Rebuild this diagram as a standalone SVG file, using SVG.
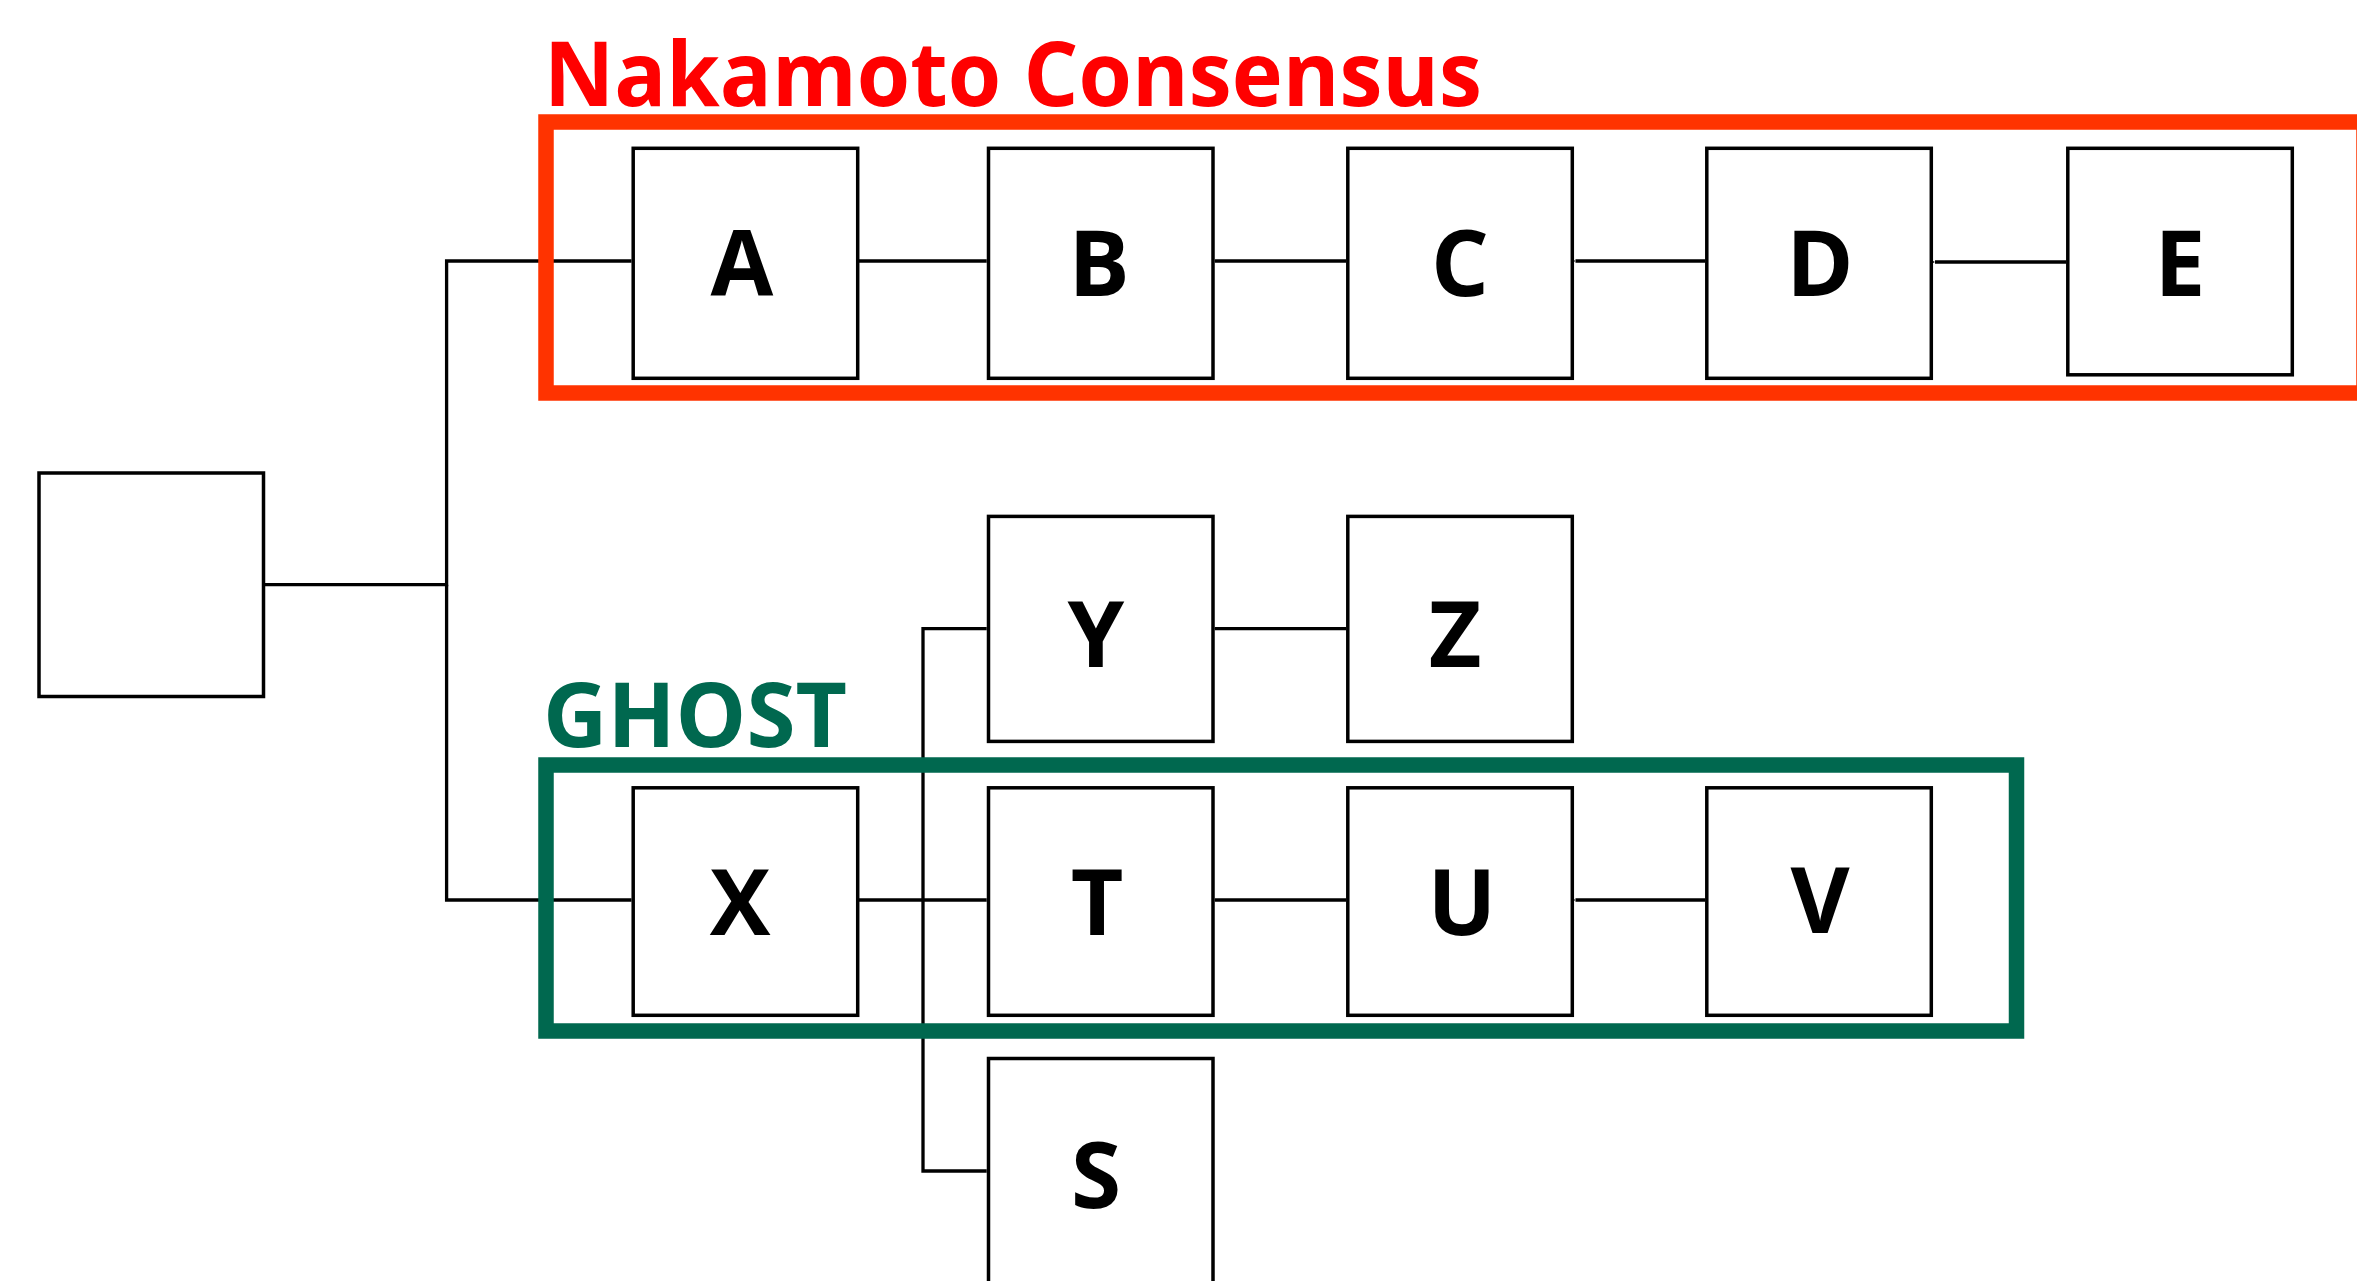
<svg xmlns="http://www.w3.org/2000/svg" width="2357" height="1281" viewBox="0 0 2357 1281">
<style>
.blk{fill:#fff;stroke:#000;stroke-width:3.5}
.lbl{font-family:"Open Sans","Noto Sans","Liberation Sans",sans-serif;font-weight:700;font-size:91px;fill:#000;text-anchor:middle}
.con{fill:none;stroke:#000;stroke-width:3.3}
.frame{fill:none;stroke-width:15.5}
.title{font-family:"Open Sans","Noto Sans","Liberation Sans",sans-serif;font-weight:700;font-size:89px}
</style>
<defs>
<marker id="arr" markerUnits="userSpaceOnUse" markerWidth="10" markerHeight="10" refX="1" refY="5" orient="auto-start-reverse">
<path d="M1,5 L8,1.5 L8,8.5 Z" fill="#000"/>
</marker>
</defs>
<rect width="2357" height="1281" fill="#fff"/>
<g id="connectors">
<path class="con" d="M986.7,261 H859" marker-end="url(#arr)"/>
<path class="con" d="M1346,261 H1214.8" marker-end="url(#arr)"/>
<path class="con" d="M1705,261 H1575.5" marker-end="url(#arr)"/>
<path class="con" d="M2066,262 H1935" marker-end="url(#arr)"/>
<path class="con" d="M631.5,261 H446.6 V584.7 H265" marker-end="url(#arr)"/>
<path class="con" d="M631.5,900 H446.6 V584.7"/>
<path class="con" d="M1346,628.6 H1214.8" marker-end="url(#arr)"/>
<path class="con" d="M986.7,900 H859" marker-end="url(#arr)"/>
<path class="con" d="M1346,900 H1214.8" marker-end="url(#arr)"/>
<path class="con" d="M1705,900 H1575.5" marker-end="url(#arr)"/>
<path class="con" d="M986.7,628.6 H923 V900"/>
<path class="con" d="M986.7,1171 H923 V900"/>
</g>
<g id="nakamoto-group">
<rect class="frame" stroke="#FF3300" x="546" y="122" width="1818" height="271"/>
<text class="title" fill="#FF0000" x="544" y="106" textLength="938" lengthAdjust="spacingAndGlyphs">Nakamoto Consensus</text>
</g>
<g id="ghost-group">
<rect class="frame" stroke="#00684F" x="546" y="765" width="1470.5" height="266"/>
<text class="title" fill="#00684F" x="543" y="747" textLength="304" lengthAdjust="spacingAndGlyphs">GHOST</text>
</g>
<g id="genesis"><rect class="blk" x="39" y="473" width="224.5" height="223.5"/></g>
<g id="A"><rect class="blk" x="633.2" y="148.3" width="224.5" height="230"/><text class="lbl" x="742" y="296">A</text></g>
<g id="B"><rect class="blk" x="988.5" y="148.3" width="224.5" height="230"/><text class="lbl" x="1099" y="296">B</text></g>
<g id="C"><rect class="blk" x="1347.8" y="148.3" width="224.5" height="230"/><text class="lbl" x="1460" y="296">C</text></g>
<g id="D"><rect class="blk" x="1706.8" y="148.3" width="224.5" height="230"/><text class="lbl" x="1820" y="296">D</text></g>
<g id="E"><rect class="blk" x="2067.8" y="148.3" width="224.5" height="226.5"/><text class="lbl" x="2180" y="296">E</text></g>
<g id="Y"><rect class="blk" x="988.5" y="516.4" width="224.5" height="225"/><text class="lbl" x="1096" y="667">Y</text></g>
<g id="Z"><rect class="blk" x="1347.8" y="516.4" width="224.5" height="225"/><text class="lbl" x="1455" y="667">Z</text></g>
<g id="X"><rect class="blk" x="633.2" y="787.8" width="224.5" height="227.5"/><text class="lbl" x="740" y="935">X</text></g>
<g id="T"><rect class="blk" x="988.5" y="787.8" width="224.5" height="227.5"/><text class="lbl" x="1097" y="935">T</text></g>
<g id="U"><rect class="blk" x="1347.8" y="787.8" width="224.5" height="227.5"/><text class="lbl" x="1462" y="935">U</text></g>
<g id="V"><rect class="blk" x="1706.8" y="787.8" width="224.5" height="227.5"/><text class="lbl" x="1820" y="933">V</text></g>
<g id="S"><rect class="blk" x="988.5" y="1058.5" width="224.5" height="300"/><text class="lbl" x="1096" y="1208">S</text></g>
</svg>
